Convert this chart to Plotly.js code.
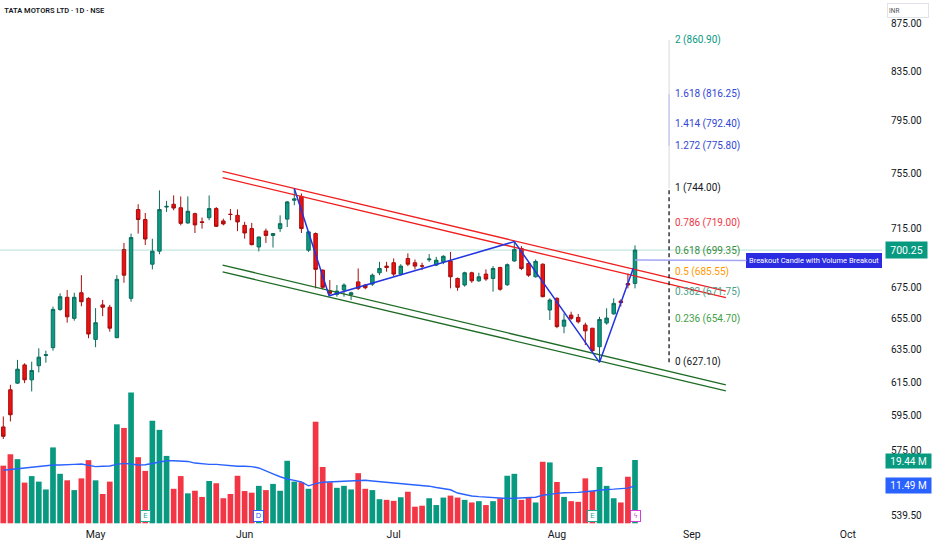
<!DOCTYPE html>
<html><head><meta charset="utf-8">
<script src="https://cdn.plot.ly/plotly-3.0.1.min.js"></script>
<style>html,body{margin:0;padding:0;background:#fff;}#chart{width:932px;height:550px;}</style>
</head><body><div id="chart"></div>
<script>
// ---- data ----
const dates = ["2025-04-09","2025-04-11","2025-04-15","2025-04-16","2025-04-17","2025-04-21","2025-04-22","2025-04-23","2025-04-24","2025-04-25","2025-04-28","2025-04-29","2025-04-30",
"2025-05-02","2025-05-05","2025-05-06","2025-05-07","2025-05-08","2025-05-09","2025-05-12","2025-05-13","2025-05-14","2025-05-15","2025-05-16","2025-05-19","2025-05-20","2025-05-21","2025-05-22","2025-05-23","2025-05-26","2025-05-27","2025-05-28","2025-05-29","2025-05-30",
"2025-06-02","2025-06-03","2025-06-04","2025-06-05","2025-06-06","2025-06-09","2025-06-10","2025-06-11","2025-06-12","2025-06-13","2025-06-16","2025-06-17","2025-06-18","2025-06-19","2025-06-20","2025-06-23","2025-06-24","2025-06-25","2025-06-26","2025-06-27","2025-06-30",
"2025-07-01","2025-07-02","2025-07-03","2025-07-04","2025-07-07","2025-07-08","2025-07-09","2025-07-10","2025-07-11","2025-07-14","2025-07-15","2025-07-16","2025-07-17","2025-07-18","2025-07-21","2025-07-22","2025-07-23","2025-07-24","2025-07-25","2025-07-28","2025-07-29","2025-07-30","2025-07-31",
"2025-08-01","2025-08-04","2025-08-05","2025-08-06","2025-08-07","2025-08-08","2025-08-11","2025-08-12","2025-08-13","2025-08-14","2025-08-18","2025-08-19"];
const openP = [588.5,610.4,614.4,625.5,616.4,625.0,631.3,636.2,660.6,668.5,654.8,671.5,667.8,641.4,663.5,662.0,642.5,700.7,667.8,728.7,
721.6,690.6,699.5,730.5,732.5,730.0,719.2,725.8,720.0,722.9,729.4,720.6,725.4,724.6,717.5,715.2,702.4,713.5,710.4,715.2,
721.9,735.4,738.2,700.2,711.7,686.6,672.8,670.4,673.3,670.2,678.7,676.6,677.2,684.8,689.3,691.6,683.9,694.5,691.6,689.5,
693.6,690.0,692.2,692.8,681.0,676.6,684.8,679.4,683.9,681.0,688.4,676.8,692.8,701.4,691.1,682.1,690.6,660.2,667.8,649.8,
656.9,655.4,650.5,648.5,636.8,651.8,657.7,666.0,677.6,677.7];
const highP = [594.6,613.4,628.6,626.5,627.5,635.8,634.3,662.4,671.1,673.3,671.5,683.2,668.5,661.4,666.8,663.5,683.2,705.2,711.7,732.5,
726.3,708.1,742.6,734.9,738.9,738.2,738.2,726.5,723.0,738.9,730.5,722.2,729.1,728.8,720.0,719.2,709.5,715.2,712.1,724.6,
734.9,744.0,740.3,713.5,712.5,687.0,679.9,676.6,677.7,672.2,687.7,677.3,684.3,692.2,692.2,694.5,690.6,698.0,693.8,691.6,
697.5,695.6,696.7,699.0,681.6,685.5,685.5,684.8,687.1,689.3,688.8,691.1,706.1,703.0,692.2,693.8,691.1,667.8,668.5,658.0,
659.1,657.6,652.0,648.5,655.8,661.3,667.8,667.1,684.3,703.5];
const lowP = [581.6,591.7,614.0,614.4,609.4,620.9,626.9,634.3,659.7,652.0,653.3,662.6,642.1,636.5,656.2,646.3,642.1,678.1,665.6,711.7,
703.8,687.1,697.4,727.0,728.2,717.5,718.5,712.1,715.2,721.1,716.3,717.5,721.1,713.4,708.2,703.5,699.3,705.2,702.0,712.9,
716.3,731.8,712.1,699.0,674.4,673.8,669.5,668.9,668.9,666.7,673.3,673.8,676.0,683.2,685.5,682.6,683.0,689.3,687.1,686.6,
692.2,689.3,690.6,674.4,672.8,675.5,678.1,678.7,679.4,672.2,672.8,676.0,692.2,686.6,682.1,681.6,668.5,653.7,648.5,645.3,
653.7,651.5,637.8,633.1,627.1,650.7,657.1,662.4,674.4,674.4];
const closeP = [583.1,595.6,622.9,616.4,622.1,630.3,631.8,660.6,668.9,655.8,668.5,665.6,644.8,652.0,662.0,648.5,680.4,683.2,708.9,721.6,
707.9,699.5,728.7,731.0,729.8,718.9,727.5,717.8,719.5,729.4,716.8,718.5,725.2,719.9,712.1,704.0,709.3,710.4,711.7,718.7,
734.2,736.4,715.2,712.9,687.1,675.1,671.1,672.6,676.6,671.5,674.4,674.8,683.2,687.7,688.4,683.9,689.3,690.6,689.3,689.3,
694.1,693.3,696.0,682.1,675.1,684.8,679.4,682.1,680.6,687.7,673.8,690.3,700.7,687.7,683.2,692.5,668.9,666.7,649.5,653.7,
654.8,652.6,646.8,634.3,654.1,655.0,664.5,665.0,676.6,700.25];
const volumeM = [17.7,21.2,19.7,12.5,14.5,12.8,10.4,23.3,15.2,13.2,
10.2,13.8,19.4,13.2,9.0,12.8,30.4,29.3,40.2,20.3,
16.1,31.5,28.7,20.7,10.6,14.5,9.2,10.0,8.1,13.0,
12.3,7.7,9.0,14.6,9.9,9.4,11.5,10.2,12.1,10.0,
19.2,12.8,12.6,10.6,31.2,17.3,12.6,10.9,11.5,10.4,
15.4,10.6,10.2,7.4,7.2,6.9,8.0,9.7,5.1,5.4,
7.7,5.6,7.9,8.5,7.9,7.2,6.4,6.8,5.6,6.8,
7.7,14.6,15.2,7.2,7.9,6.4,18.9,18.7,12.7,8.1,
6.8,6.6,13.8,9.9,17.3,11.5,7.7,6.4,14.3,19.44];
const volumeMA = [16.3,16.6,16.9,17.0,17.2,17.4,17.8,17.9,17.9,18.1,
18.1,18.2,17.8,17.4,17.5,17.6,18.1,18.4,18.2,17.9,
18.0,18.4,18.8,19.2,19.2,19.1,19.0,18.5,18.2,18.1,
18.1,17.9,17.6,17.5,17.5,17.4,17.0,16.2,15.2,14.3,
13.6,13.2,12.7,11.5,12.2,12.6,12.7,12.8,12.8,12.8,
13.0,13.2,13.0,12.8,12.7,12.5,12.4,12.2,12.0,11.7,
11.4,11.0,10.7,10.3,9.3,8.8,8.4,8.2,8.0,7.8,
7.6,7.6,7.7,7.8,7.9,8.0,8.6,9.0,9.2,9.4,
9.4,9.5,9.7,10.0,10.2,10.4,10.5,10.6,10.8,11.49];

const holidays = ["2025-04-10","2025-04-14","2025-04-18","2025-05-01","2025-08-15","2025-08-27","2025-10-02"];
const monthTickDates = ["2025-05-02","2025-06-02","2025-07-01","2025-08-01","2025-09-01","2025-10-01"];
const monthTickLabels = ["May","Jun","Jul","Aug","Sep","Oct"];
const xRange = ["2025-04-09 00:50","2025-10-09 07:12"];
const priceTicks = [875,835,795,755,715,675,655,635,615,595,575,539.5];
const priceRange = [533.9, 895.4];

const fibRatios = ["2","1.618","1.414","1.272","1","0.786","0.618","0.5","0.382","0.236","0"];
const fibPrices = [860.90,816.25,792.40,775.80,744.00,719.00,699.35,685.55,671.75,654.70,627.10];
const fibColors = ["#089981","#3146d6","#3146d6","#3146d6","#131722","#f23645","#388e3c","#ff9800","#4b9e8a","#43a047","#131722"];
const fibLineDate = ["2025-08-26 07:12","2025-08-26 07:12"];

const channelDates = ["2025-05-28 09:36","2025-09-08 07:12"];
const redUpper = [756.5, 672.6];
const redLower = [751.9, 668.2];
const greenUpper = [690.0, 613.4];
const greenLower = [685.4, 609.8];

const zigDates = ["2025-06-11 12:00","2025-06-18 09:36","2025-07-24 12:00","2025-08-11 12:00","2025-08-19 06:30"];
const zigPrices = [744.0, 669.5, 706.1, 627.1, 688.0];

const calloutPrice = 693.5;
const eventDates = ["2025-05-13","2025-06-04","2025-08-08","2025-08-19"];
const eventLabels = ["E","D","E","ϟ"];
const eventColors = ["#26a69a","#2962ff","#26a69a","#d13fd8"];

// ---- build ----
const xs = dates.map(d => d + " 12:00");
const n = dates.length;
const lastClose = closeP[n-1];
const volColors = closeP.map((c,i) => c >= openP[i] ? "#089981" : "#f23645");

const traces = [
  {type:'bar', x:xs, y:volumeM, yaxis:'y', marker:{color:volColors, line:{width:0}}, hoverinfo:'skip'},
  {type:'scatter', mode:'lines', x:xs, y:volumeMA, yaxis:'y', line:{color:'#2962ff', width:1.4}, hoverinfo:'skip'},
  {type:'scatter', mode:'lines', x:xRange, y:[lastClose,lastClose], yaxis:'y2', line:{color:'rgba(8,153,129,0.3)', width:1}, hoverinfo:'skip'},
  {type:'candlestick', x:xs, open:openP, high:highP, low:lowP, close:closeP, yaxis:'y2',
   increasing:{line:{color:'#0b6b5b', width:1}, fillcolor:'#0c9a82'},
   decreasing:{line:{color:'#a50d0d', width:1}, fillcolor:'#ee1111'}, hoverinfo:'skip'},
  {type:'scatter', mode:'lines', x:channelDates, y:redUpper, yaxis:'y2', line:{color:'#f01e1e', width:1.3}},
  {type:'scatter', mode:'lines', x:channelDates, y:redLower, yaxis:'y2', line:{color:'#f01e1e', width:1.3}},
  {type:'scatter', mode:'lines', x:channelDates, y:greenUpper, yaxis:'y2', line:{color:'#1e6b24', width:1.3}},
  {type:'scatter', mode:'lines', x:channelDates, y:greenLower, yaxis:'y2', line:{color:'#1e6b24', width:1.3}},
  {type:'scatter', mode:'lines', x:zigDates, y:zigPrices, yaxis:'y2', line:{color:'#2233e0', width:1.5}},
  {type:'scatter', mode:'lines', x:fibLineDate, y:[fibPrices[4], fibPrices[0]], yaxis:'y2', line:{color:'#d6d8e0', width:1}},
  {type:'scatter', mode:'lines', x:fibLineDate, y:[fibPrices[3], fibPrices[1]], yaxis:'y2', line:{color:'#b9bdf0', width:1}},
  {type:'scatter', mode:'lines', x:fibLineDate, y:[fibPrices[10], fibPrices[4]], yaxis:'y2', line:{color:'#131722', width:1.3, dash:'4px,3px'}}
];

const ann = [];
fibRatios.forEach((r,k) => ann.push({xref:'x', yref:'y2', x:fibLineDate[0], y:Math.log10(fibPrices[k]),
  xanchor:'left', yanchor:'middle', xshift:4, showarrow:false, text:`${r} (${fibPrices[k].toFixed(2)})`,
  font:{family:'Roboto', size:10, color:fibColors[k]}}));
ann.push({xref:'x', yref:'y2', x:xs[n-1], y:Math.log10(calloutPrice), axref:'pixel', ayref:'pixel', ax:179, ay:1,
  showarrow:true, arrowhead:0, arrowwidth:1.5, arrowcolor:'#a4a6f2', standoff:0,
  text:'Breakout Candle with Volume Breakout', font:{family:'Roboto', size:7.5, color:'#ffffff'},
  bgcolor:'#2b2be2', bordercolor:'#2b2be2', borderwidth:1, borderpad:2});
ann.push({xref:'paper', x:1, xanchor:'left', xshift:3, yref:'y2', y:Math.log10(lastClose), yanchor:'middle',
  text:lastClose.toFixed(2), showarrow:false, bgcolor:'#089981', font:{family:'Roboto', size:10.5, color:'#fff'}, width:38, height:13, borderpad:1.5});
ann.push({xref:'paper', x:1, xanchor:'left', xshift:3, yref:'y', y:volumeM[n-1], yanchor:'middle', yshift:-1,
  text:volumeM[n-1].toFixed(2)+' M', showarrow:false, bgcolor:'#089981', font:{family:'Roboto', size:10, color:'#fff'}, width:42, height:11, borderpad:1.5});
ann.push({xref:'paper', x:1, xanchor:'left', xshift:3, yref:'y', y:volumeMA[n-1], yanchor:'middle',
  text:volumeMA[n-1].toFixed(2)+' M', showarrow:false, bgcolor:'#2962ff', font:{family:'Roboto', size:10, color:'#fff'}, width:42, height:12, borderpad:1.5});
ann.push({xref:'paper', x:1, xanchor:'left', xshift:5, yref:'paper', y:1, yanchor:'top', yshift:-3,
  text:'INR', showarrow:false, bgcolor:'#ffffff', bordercolor:'#e0e3eb', borderwidth:1, align:'left',
  font:{family:'Roboto', size:6.5, color:'#555'}, width:38, height:11});
eventDates.forEach((d,k) => ann.push({xref:'x', yref:'paper', x:d+" 12:00", y:0.019, yanchor:'middle', showarrow:false,
  text:eventLabels[k], font:{family:'DejaVu Sans', size:7, color:eventColors[k]}, bgcolor:'#ffffff',
  bordercolor:eventColors[k], borderwidth:1, borderpad:0.5, width:8, height:9}));

const layout = {
  width:932, height:550, margin:{l:0, r:50, t:0, b:24},
  paper_bgcolor:'#ffffff', plot_bgcolor:'#ffffff', showlegend:false, dragmode:false,
  title:{text:'TATA MOTORS LTD · 1D · NSE', x:0.0045, xanchor:'left', xref:'container', y:0.982, yanchor:'middle', yref:'container',
    font:{family:'Roboto', size:7.5, color:'#131722', weight:600}},
  xaxis:{type:'date', range:xRange, rangebreaks:[{bounds:['sat','mon']},{values:holidays}],
    tickvals:monthTickDates.map(d=>d+" 12:00"), ticktext:monthTickLabels, showgrid:false, zeroline:false, showline:false, ticks:'',
    tickfont:{family:'Roboto', size:10.5, color:'#131722'}, rangeslider:{visible:false}, fixedrange:true},
  yaxis:{range:[-0.83, 160.72], visible:false, showgrid:false, zeroline:false, fixedrange:true},
  yaxis2:{type:'log', overlaying:'y', side:'right', range:[Math.log10(priceRange[0]), Math.log10(priceRange[1])],
    tickvals:priceTicks, ticktext:priceTicks.map(v=>v.toFixed(2)), showgrid:false, zeroline:false, showline:false, ticks:'',
    ticklabelstandoff:8, tickfont:{family:'Roboto', size:10, color:'#131722'}, fixedrange:true},
  annotations:ann
};
Plotly.newPlot('chart', traces, layout, {displayModeBar:false, staticPlot:true});
</script></body></html>
